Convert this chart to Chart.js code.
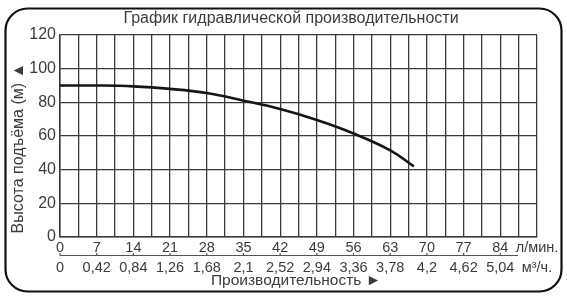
<!DOCTYPE html>
<html>
<head>
<meta charset="utf-8">
<script src="https://cdn.jsdelivr.net/npm/chart.js@4"></script>
<style>
  html, body { margin: 0; padding: 0; background: #fff; }
  #wrap { width: 567px; height: 299px; }
</style>
</head>
<body>
<div id="wrap"><canvas id="pumpChart" width="567" height="299"></canvas></div>
<script>
// --- Data ---
const flowLpm = [0, 7, 14, 21, 28, 35, 42, 49, 56, 63, 67.5];
const headM = [90, 90, 89.5, 88, 85.5, 81, 76, 69.5, 61.5, 51.5, 42];

// x tick labels: l/min and m3/h rows
const lpmTicks = ['0', '7', '14', '21', '28', '35', '42', '49', '56', '63', '70', '77', '84', 'л/мин.'];
const m3hTicks = ['0', '0,42', '0,84', '1,26', '1,68', '2,1', '2,52', '2,94', '3,36', '3,78', '4,2', '4,62', '5,04', 'м³/ч.'];
const headTicks = ['0', '20', '40', '60', '80', '100', '120'];

const titleText = 'График гидравлической производительности';
const yTitleText = 'Высота подъёма (м) ▲';
const xTitleText = 'Производительность ►';

const FONT = '"Liberation Sans", Arial, sans-serif';
const GRID = '#3a3a3a';
const TEXT = '#3c3c3c';

// frame, titles and the line between the two rows of x labels
const decorPlugin = {
    id: 'decor',
    beforeDraw(chart) {
        const c = chart.ctx;
        c.save();
        c.fillStyle = '#fff';
        c.fillRect(0, 0, chart.width, chart.height);
        c.strokeStyle = '#111';
        c.lineWidth = 2.2;
        c.beginPath();
        c.roundRect(5.5, 8.5, 556, 283, 22);
        c.stroke();
        c.restore();
    },
    afterDraw(chart) {
        const c = chart.ctx;
        const x = chart.scales.x;
        const area = chart.chartArea;
        c.save();
        c.fillStyle = TEXT;
        c.textAlign = 'center';
        c.textBaseline = 'middle';
        c.font = '16px ' + FONT;
        c.fillText(titleText, 291, 19);

        c.font = '15.5px ' + FONT;
        c.fillText(xTitleText, 296, 281);

        c.font = '16px ' + FONT;
        c.translate(19, 148);
        c.rotate(-Math.PI / 2);
        c.fillText(yTitleText, 0, 0);
        c.restore();

        // separator between the two label rows
        c.save();
        c.strokeStyle = '#555';
        c.lineWidth = 1.2;
        const yLine = area.bottom + 18.5;
        c.beginPath();
        c.moveTo(area.left, yLine);
        c.lineTo(518, yLine);
        c.stroke();
        for (let i = 0; i <= 12; i++) {
            const px = x.getPixelForValue(i * 7);
            c.beginPath();
            c.moveTo(px, yLine - 2.5);
            c.lineTo(px, yLine);
            c.stroke();
        }
        c.restore();
    }
};

const ctx = document.getElementById('pumpChart').getContext('2d');
new Chart(ctx, {
    type: 'line',
    data: {
        datasets: [{
            data: flowLpm.map((f, i) => ({ x: f, y: headM[i] })),
            borderColor: '#151515',
            borderWidth: 2.6,
            pointRadius: 0,
            tension: 0.4,
            fill: false
        }]
    },
    options: {
        responsive: false,
        animation: false,
        layout: { padding: { top: 35, left: 0, right: 30, bottom: 0 } },
        plugins: {
            legend: { display: false },
            tooltip: { enabled: false }
        },
        scales: {
            x: {
                type: 'linear',
                min: 0,
                max: 91,
                afterFit: (s) => { s.height = 62; },
                afterBuildTicks: (s) => {
                    s.ticks = [];
                    for (let i = 0; i <= 26; i++) s.ticks.push({ value: i * 3.5 });
                },
                border: { color: GRID, width: 1.5 },
                grid: { color: GRID, lineWidth: 1.3, drawTicks: false },
                ticks: {
                    autoSkip: false,
                    maxRotation: 0,
                    padding: 1,
                    color: TEXT,
                    font: { family: FONT, size: 14.5, lineHeight: 1.4 },
                    callback: function (v) {
                        const k = Math.round(v / 3.5);
                        if (k % 2 !== 0) return '';
                        return [lpmTicks[k / 2], m3hTicks[k / 2]];
                    }
                }
            },
            y: {
                min: 0,
                max: 120,
                afterFit: (s) => { s.width = 60; },
                border: { color: GRID, width: 1.5 },
                grid: { color: GRID, lineWidth: 1.3, drawTicks: false },
                ticks: {
                    stepSize: 10,
                    padding: 4,
                    color: TEXT,
                    font: { family: FONT, size: 16 },
                    callback: function (v) {
                        if (v % 20 !== 0) return '';
                        return headTicks[v / 20];
                    }
                }
            }
        }
    },
    plugins: [decorPlugin]
});
</script>
</body>
</html>
